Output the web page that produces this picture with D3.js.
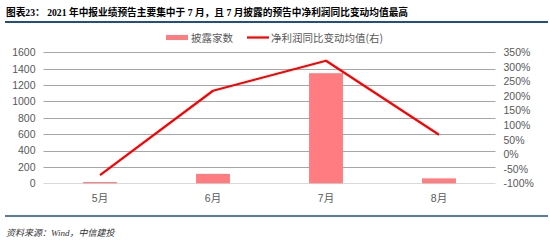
<!DOCTYPE html>
<html>
<head>
<meta charset="utf-8">
<script src="https://cdn.jsdelivr.net/npm/d3@7"></script>
<style>
  html, body { margin: 0; padding: 0; background: #fff; }
  svg { display: block; }
</style>
</head>
<body>
<svg id="chart" width="550" height="240"></svg>
<script>
// Monthly counts of interim-report previews and mean YoY net profit change
const months = ["5月", "6月", "7月", "8月"];
const disclosedCounts = [15, 115, 1345, 60];
const profitChangePct = [-72, 218, 321, 67];
const leftTicks = [0, 200, 400, 600, 800, 1000, 1200, 1400, 1600];
const rightTicks = [-100, -50, 0, 50, 100, 150, 200, 250, 300, 350];
const seriesNames = ["披露家数", "净利润同比变动均值(右)"];
const titleText = "图表23： 2021 年中报业绩预告主要集中于 7 月，且 7 月披露的预告中净利润同比变动均值最高";
const sourceText = "资料来源：Wind，中信建投";

const svg = d3.select("#chart");
const plot = { left: 43.5, right: 495.5, top: 52.3, bottom: 183.3 };
const labelFont = "Arial, 'Liberation Sans', 'Noto Sans CJK SC', sans-serif";

const x = d3.scaleBand().domain(months).range([plot.left, plot.right]).paddingInner(0.7).paddingOuter(0.35);
const yL = d3.scaleLinear().domain([0, 1600]).range([plot.bottom, plot.top]);
const yR = d3.scaleLinear().domain([-100, 350]).range([plot.bottom, plot.top]);

// Title and header rule
svg.append("text")
  .attr("x", 6).attr("y", 15.5)
  .attr("font-family", "'Times New Roman', 'Liberation Serif', 'Noto Sans CJK SC', serif")
  .attr("font-weight", "bold").attr("font-size", 9.7).attr("fill", "#000")
  .text(titleText);
svg.append("line")
  .attr("x1", 5).attr("x2", 548).attr("y1", 22).attr("y2", 22)
  .attr("stroke", "#1f4e8c").attr("stroke-width", 2);

// Gridlines
const grid = svg.append("g");
grid.selectAll("line").data(leftTicks.filter(d => d > 0)).join("line")
  .attr("x1", plot.left).attr("x2", plot.right)
  .attr("y1", d => Math.round(yL(d)) + 0.5).attr("y2", d => Math.round(yL(d)) + 0.5)
  .attr("stroke", "#a6a6a6").attr("stroke-width", 1);
svg.append("line")
  .attr("x1", plot.left).attr("x2", plot.right)
  .attr("y1", Math.round(yL(0)) + 0.5).attr("y2", Math.round(yL(0)) + 0.5)
  .attr("stroke", "#d9d9d9").attr("stroke-width", 1);

// Left axis
const leftAxis = d3.axisLeft(yL).tickValues(leftTicks).tickSize(0).tickPadding(8).tickFormat(d3.format("d"));
const gl = svg.append("g").attr("transform", `translate(${plot.left},0)`).call(leftAxis);
gl.select(".domain").remove();
gl.selectAll("text").attr("font-family", labelFont).attr("font-size", 10.5).attr("fill", "#595959");

// Right axis
const rightAxis = d3.axisRight(yR).tickValues(rightTicks).tickSize(0).tickPadding(8).tickFormat(d => d + "%");
const gr = svg.append("g").attr("transform", `translate(${plot.right},0)`).call(rightAxis);
gr.select(".domain").remove();
gr.selectAll("text").attr("font-family", labelFont).attr("font-size", 10.5).attr("fill", "#595959");

// Bottom axis
const bottomAxis = d3.axisBottom(x).tickSize(0).tickPadding(11);
const gb = svg.append("g").attr("transform", `translate(0,${plot.bottom})`).call(bottomAxis);
gb.select(".domain").remove();
gb.selectAll("text").attr("font-family", labelFont).attr("font-size", 10.5).attr("fill", "#595959");

// Bars
svg.append("g").selectAll("rect").data(months).join("rect")
  .attr("x", d => x(d)).attr("width", x.bandwidth())
  .attr("y", (d, i) => yL(disclosedCounts[i]))
  .attr("height", (d, i) => yL(0) - yL(disclosedCounts[i]))
  .attr("fill", "#ff7c80");

// Line on the right axis
const line = d3.line()
  .x((d, i) => x(months[i]) + x.bandwidth() / 2)
  .y(d => yR(d));
svg.append("path").datum(profitChangePct)
  .attr("d", line).attr("fill", "none")
  .attr("stroke", "#ff0000").attr("stroke-width", 2.25).attr("stroke-linejoin", "round");

// Legend
const lg = svg.append("g").attr("font-family", "'Noto Sans CJK SC', sans-serif").attr("font-size", 10.5).attr("fill", "#595959");
lg.append("rect").attr("x", 166).attr("y", 35).attr("width", 22).attr("height", 5).attr("fill", "#ff7c80");
lg.append("text").attr("x", 191).attr("y", 41.5).text(seriesNames[0]);
lg.append("line").attr("x1", 247).attr("x2", 269).attr("y1", 37.5).attr("y2", 37.5).attr("stroke", "#ff0000").attr("stroke-width", 2.25);
lg.append("text").attr("x", 271).attr("y", 41.5).text(seriesNames[1]);

// Footer rule and source
svg.append("line")
  .attr("x1", 5).attr("x2", 548).attr("y1", 216).attr("y2", 216)
  .attr("stroke", "#1f4e8c").attr("stroke-width", 1.5);
svg.append("text")
  .attr("x", 6).attr("y", 236)
  .attr("font-family", "'Times New Roman', 'Liberation Serif', 'Noto Sans CJK SC', serif")
  .attr("font-style", "italic").attr("font-size", 9).attr("fill", "#333")
  .text(sourceText);
</script>
</body>
</html>
